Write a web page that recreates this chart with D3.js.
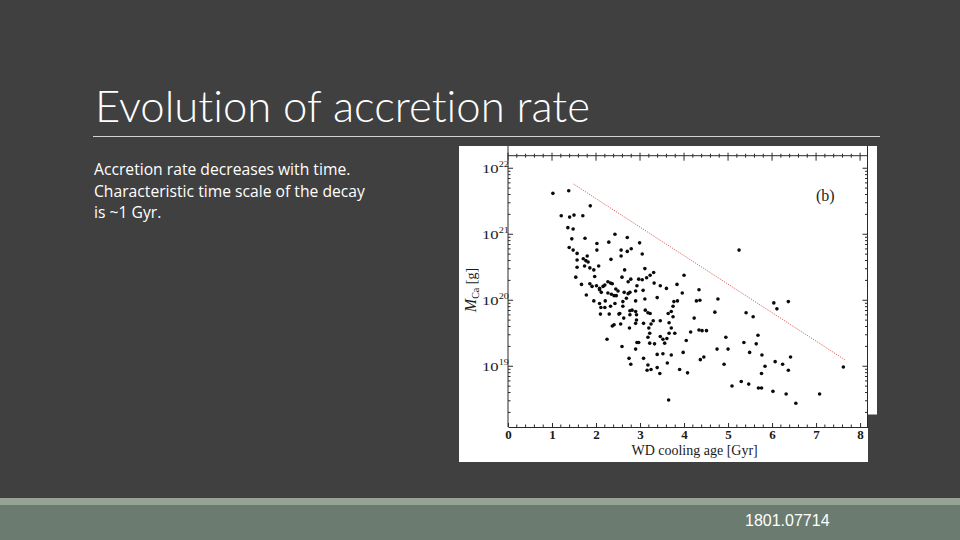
<!DOCTYPE html>
<html><head><meta charset="utf-8">
<script src="https://cdn.jsdelivr.net/npm/d3@7"></script>
<style>html,body{margin:0;padding:0;background:#404040;}svg{display:block;}text{font-variant-ligatures:none;font-feature-settings:"liga" 0,"clig" 0;}</style>
</head><body>
<svg id="c" width="960" height="540"></svg>
<script>
// ---------- data ----------
const title = "Evolution of accretion rate";
const bodyLines = ["Accretion rate decreases with time.", "Characteristic time scale of the decay", "is ~1 Gyr."];
const footerText = "1801.07714";
const xLabel = "WD cooling age [Gyr]";
const panelLabel = "(b)";
const xTickValues = [0, 1, 2, 3, 4, 5, 6, 7, 8];
const yTickExponents = [19, 20, 21, 22];

// WD cooling age [Gyr]
const ages = [1.02,1.38,1.87,1.21,1.40,1.50,1.70,1.36,1.48,2.43,1.45,1.75,2.02,2.29,1.39,1.48,1.57,2.02,1.80,1.57,
1.71,1.77,1.82,2.34,2.57,2.71,2.99,2.57,2.71,2.80,3.05,2.65,3.11,3.31,3.23,3.15,2.59,2.79,2.73,2.97,
3.05,4.00,3.32,3.46,3.60,3.84,4.34,2.45,2.50,2.64,2.77,2.93,2.90,3.07,3.96,2.46,2.73,2.69,2.90,3.11,
3.39,3.77,3.85,4.28,4.36,2.61,2.06,1.57,1.74,1.86,1.95,1.54,1.97,1.67,1.86,1.91,2.01,2.08,2.16,2.20,
2.27,2.33,2.37,1.78,2.08,2.12,2.27,2.35,2.41,1.95,2.08,2.21,2.43,2.33,2.11,2.20,2.10,2.30,2.54,2.37,
2.41,2.25,2.61,2.52,2.77,2.82,2.90,2.77,2.92,3.12,3.18,3.23,3.75,3.71,3.64,3.75,2.63,2.92,2.90,2.56,
3.08,3.30,3.25,3.46,3.66,4.23,2.76,3.20,3.71,3.22,3.66,3.79,3.46,3.52,3.61,4.15,4.41,3.18,4.05,2.93,
2.97,3.22,3.33,3.56,2.59,2.90,3.98,3.39,3.52,3.71,3.08,2.75,4.45,4.37,3.62,2.79,3.18,3.39,3.16,3.25,
3.90,3.45,4.08,3.65,5.25,4.77,4.70,5.41,5.57,6.04,6.11,6.37,4.51,4.34,4.95,5.68,5.36,5.64,4.75,5.00,
5.49,5.77,4.91,6.07,6.24,6.42,5.84,6.37,5.76,7.62,5.30,5.47,5.09,5.69,5.76,6.02,6.32,7.08,6.54];
// log10 of M_Ca [g]
const logMassCa = [21.62,21.66,21.43,21.28,21.26,21.29,21.28,21.10,21.08,21.00,20.93,20.94,20.86,20.88,20.80,20.76,20.71,20.76,20.67,20.61,
20.63,20.60,20.58,20.62,20.67,20.95,20.87,20.76,20.74,20.78,20.70,20.46,20.48,20.42,20.38,20.34,20.35,20.32,20.28,20.32,
20.31,20.38,20.26,20.22,20.18,20.24,20.16,20.17,20.14,20.12,20.12,20.22,20.14,20.15,20.11,20.07,20.10,20.03,19.99,20.02,
20.04,19.98,19.99,19.99,20.00,19.98,20.52,20.50,20.52,20.49,20.46,20.35,20.36,20.24,20.25,20.21,20.22,20.18,20.21,20.23,
20.28,20.26,20.25,20.08,20.16,20.12,20.11,20.09,20.07,19.99,19.95,19.99,19.95,19.91,19.89,19.89,19.79,19.79,19.80,19.61,
19.63,19.41,19.91,19.79,19.84,19.85,19.83,19.78,19.78,19.85,19.81,19.80,19.91,19.83,19.80,19.75,19.73,19.70,19.65,19.64,
19.65,19.69,19.64,19.69,19.66,19.73,19.58,19.58,19.58,19.50,19.50,19.50,19.45,19.41,19.42,19.52,19.54,19.44,19.39,19.36,
19.36,19.35,19.34,19.35,19.30,19.26,19.21,19.18,19.19,19.17,19.12,19.12,19.14,19.10,19.05,19.03,19.02,18.98,18.94,18.95,
18.95,18.89,18.90,18.49,20.76,20.02,19.82,19.81,19.75,19.96,19.87,19.98,19.54,19.55,19.44,19.47,19.36,19.34,19.26,19.26,
19.21,19.17,19.03,19.07,19.03,19.14,19.00,18.94,18.89,18.99,18.77,18.73,18.70,18.67,18.67,18.62,18.58,18.58,18.44];
// red dotted decay line (~1 Gyr e-folding)
const fitAges = [1.49, 7.65];
const fitLogMass = [21.76, 19.10];

// ---------- drawing ----------
const svg = d3.select("#c");
svg.append("rect").attr("width", 960).attr("height", 540).attr("fill", "#404040");

function fitWidth(sel, target) {
  const fs = parseFloat(sel.attr("font-size"));
  const w = sel.node().getComputedTextLength();
  if (w > 0) sel.attr("font-size", (fs * target / w).toFixed(2));
}

// title
const tt = svg.append("text").attr("x", 95).attr("y", 122)
  .attr("font-family", "Lato, 'Open Sans', sans-serif").attr("font-weight", 300)
  .attr("font-size", 42).attr("fill", "#ffffff").text(title);
fitWidth(tt, 495);

svg.append("line").attr("x1", 93).attr("x2", 880).attr("y1", 136.5).attr("y2", 136.5)
  .attr("stroke", "#d4d4d4").attr("stroke-width", 1);

// body text
const body = svg.append("g").attr("font-family", "'Open Sans', 'Noto Sans', sans-serif").attr("fill", "#ffffff");
const bl = body.selectAll("text").data(bodyLines).join("text")
  .attr("x", 94).attr("y", (d, i) => 175 + i * 21.6).attr("font-size", 15).text(d => d);
{
  const probe = bl.filter((d, i) => i === 1);
  const w = probe.node().getComputedTextLength();
  const fs = 15 * 271 / w;
  bl.attr("font-size", fs.toFixed(2));
}

// footer
svg.append("rect").attr("x", 0).attr("y", 498).attr("width", 960).attr("height", 7).attr("fill", "#95a396");
svg.append("rect").attr("x", 0).attr("y", 505).attr("width", 960).attr("height", 35).attr("fill", "#6b7b6f");
svg.append("text").attr("x", 745).attr("y", 526).attr("font-family", "'Liberation Sans', Arial, sans-serif")
  .attr("font-size", 16).attr("fill", "#ffffff").text(footerText);

// chart picture (white panel with notch at lower right)
const panel = svg.append("g");
panel.append("path").attr("d", "M459,146H877V414.5H868V462H459Z").attr("fill", "#ffffff").attr("stroke", "none");

const x = d3.scaleLinear().domain([0, 8.18]).range([508, 868]);
const yTop = 155.7, yBot = 427;
const y = d3.scaleLog().domain([Math.pow(10, 18.08), Math.pow(10, 22.19)]).range([yBot, yTop]);

const ink = "#2a2a2a";
const serif = "'Liberation Serif', 'Times New Roman', serif";
// frame
panel.append("line").attr("x1", x(0)).attr("x2", x(0)).attr("y1", 146).attr("y2", yBot).attr("stroke", ink);
panel.append("line").attr("x1", 867.5).attr("x2", 867.5).attr("y1", 146).attr("y2", yBot).attr("stroke", ink);
panel.append("line").attr("x1", x(0)).attr("x2", 868).attr("y1", yTop).attr("y2", yTop).attr("stroke", ink);

// bottom axis (ticks inward)
const minorX = d3.range(0, 8.01, 0.2).filter(v => Math.abs(v - Math.round(v)) > 0.01);
const bottomAxis = d3.axisBottom(x).tickValues(xTickValues).tickFormat(d3.format("d"))
  .tickSizeInner(-4).tickSizeOuter(0).tickPadding(3);
const gb = panel.append("g").attr("transform", `translate(0,${yBot})`).call(bottomAxis);
gb.select(".domain").attr("stroke", ink);
gb.selectAll(".tick line").attr("stroke", ink);
gb.selectAll(".tick text").attr("font-family", serif)
  .attr("font-size", 13).attr("fill", "#1a1a1a").attr("font-weight", "bold");
panel.append("g").selectAll("line").data(minorX).join("line")
  .attr("x1", d => x(d)).attr("x2", d => x(d)).attr("y1", yBot).attr("y2", yBot - 2.5).attr("stroke", ink);

// top axis ticks (crossing the line)
panel.append("g").selectAll("line").data(minorX).join("line")
  .attr("x1", d => x(d)).attr("x2", d => x(d)).attr("y1", yTop - 2).attr("y2", yTop + 2).attr("stroke", ink);
panel.append("g").selectAll("line").data(xTickValues).join("line")
  .attr("x1", d => x(d)).attr("x2", d => x(d)).attr("y1", yTop - 3).attr("y2", yTop + 5).attr("stroke", ink);

// y axes ticks (log)
const majorY = yTickExponents.map(e => Math.pow(10, e));
const minorY = [];
[18, 19, 20, 21, 22].forEach(e => { for (let m = 2; m <= 9; m++) { const v = m * Math.pow(10, e); if (v > y.domain()[0] && v < y.domain()[1]) minorY.push(v); } });
const gy = panel.append("g");
gy.append("g").selectAll("line").data(majorY).join("line")
  .attr("x1", x(0)).attr("x2", x(0) + 5).attr("y1", d => y(d)).attr("y2", d => y(d)).attr("stroke", ink);
gy.append("g").selectAll("line").data(minorY).join("line")
  .attr("x1", x(0)).attr("x2", x(0) + 2.5).attr("y1", d => y(d)).attr("y2", d => y(d)).attr("stroke", ink);
gy.append("g").selectAll("line").data(majorY).join("line")
  .attr("x1", 867.5).attr("x2", 862.5).attr("y1", d => y(d)).attr("y2", d => y(d)).attr("stroke", ink);
gy.append("g").selectAll("line").data(minorY).join("line")
  .attr("x1", 867.5).attr("x2", 865).attr("y1", d => y(d)).attr("y2", d => y(d)).attr("stroke", ink);

// y tick labels 10^n (picture is stretched horizontally)
const yl = panel.append("g").attr("font-family", serif).attr("fill", "#1a1a1a");
yTickExponents.forEach(e => {
  const g = yl.append("g").attr("transform", `translate(482,${y(Math.pow(10, e)) + 5}) scale(1.28,1)`);
  const t = g.append("text").attr("x", 0).attr("y", 0).attr("font-size", 13);
  t.append("tspan").text("10");
  t.append("tspan").attr("dy", -6).attr("font-size", 8).text(String(e));
});

// axis titles
panel.append("text").attr("x", x(4.24)).attr("y", 455).attr("text-anchor", "middle")
  .attr("font-family", serif).attr("font-size", 14)
  .attr("fill", "#1a1a1a").text(xLabel);
const ylab = panel.append("text").attr("transform", "translate(476,290) rotate(-90)").attr("text-anchor", "middle")
  .attr("font-family", serif).attr("font-size", 14).attr("fill", "#1a1a1a");
ylab.append("tspan").attr("font-style", "italic").attr("font-size", 16).text("M");
ylab.append("tspan").attr("font-size", 10).attr("dy", 3).text("Ca");
ylab.append("tspan").attr("dy", -3).text(" [g]");

panel.append("text").attr("x", 816).attr("y", 201).attr("font-family", serif)
  .attr("font-size", 16).attr("fill", "#1a1a1a").text(panelLabel);

// decay line
const fitData = fitAges.map((a, i) => [a, fitLogMass[i]]);
panel.append("path").datum(fitData)
  .attr("d", d3.line().x(d => x(d[0])).y(d => y(Math.pow(10, d[1]))))
  .attr("fill", "none").attr("stroke", "#d8504c").attr("stroke-width", 1).attr("stroke-dasharray", "1,1.3");

// scatter points
const pts = ages.map((a, i) => [a, logMassCa[i]]);
panel.append("g").selectAll("circle").data(pts).join("circle")
  .attr("cx", d => x(d[0])).attr("cy", d => y(Math.pow(10, d[1]))).attr("r", 1.8).attr("fill", "#0a0a0a");
</script>
</body></html>
